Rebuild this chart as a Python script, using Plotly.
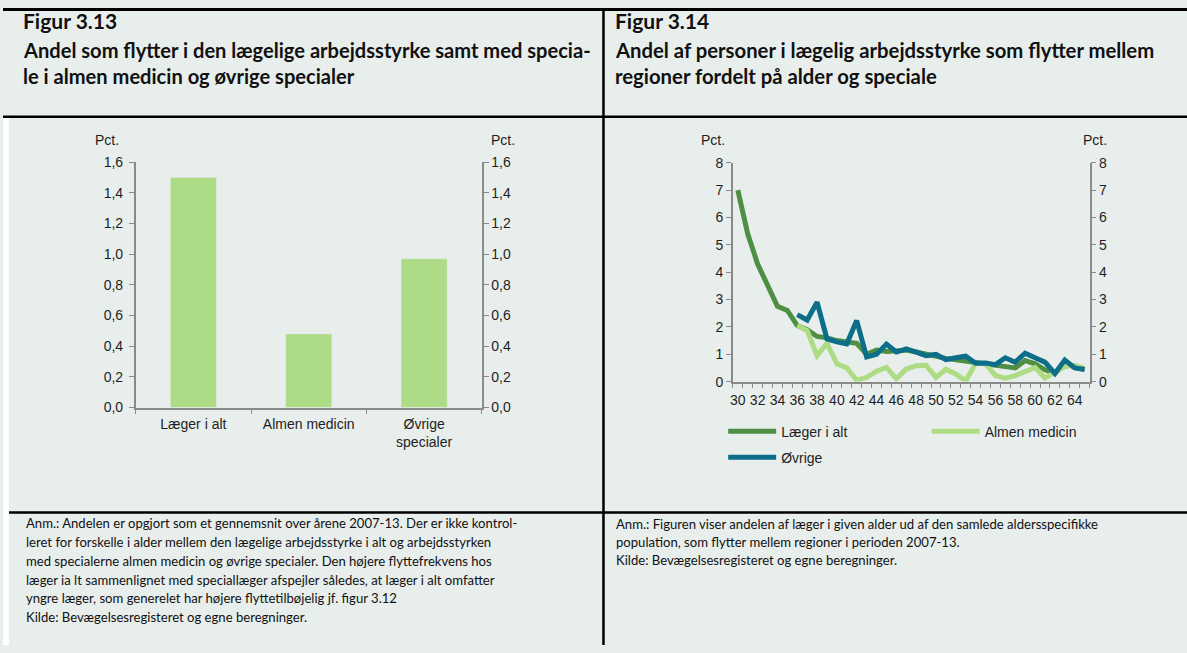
import plotly.graph_objects as go

W, H = 1187, 653

# ---------------- data ----------------
bar_categories = ["Læger i alt", "Almen medicin", "Øvrige<br>specialer"]
bar_values = [1.50, 0.48, 0.97]
bar_ticks = [0.0, 0.2, 0.4, 0.6, 0.8, 1.0, 1.2, 1.4, 1.6]
bar_ticktext = ["0,0", "0,2", "0,4", "0,6", "0,8", "1,0", "1,2", "1,4", "1,6"]

ages = list(range(30, 66))
laeger_i_alt = [7.0, 5.4, 4.3, 3.5, 2.75, 2.6, 2.05, 1.9, 1.65, 1.6,
                1.5, 1.45, 1.4, 1.0, 1.15, 1.1, 1.12, 1.15, 1.08, 1.0,
                0.9, 0.85, 0.8, 0.75, 0.68, 0.66, 0.6, 0.55, 0.5, 0.77,
                0.65, 0.43, 0.3, 0.65, 0.55, 0.45]
almen_medicin = [None] * 6 + [2.05, 1.87, 0.95, 1.4, 0.65, 0.5, 0.05, 0.15, 0.38, 0.52,
                              0.1, 0.46, 0.58, 0.6, 0.15, 0.45, 0.28, 0.02, 0.67, 0.65,
                              0.22, 0.13, 0.22, 0.37, 0.52, 0.13, 0.35, 0.55, 0.6, 0.48]
ovrige = [None] * 6 + [2.45, 2.25, 2.9, 1.56, 1.45, 1.38, 2.23, 0.9, 1.0, 1.37,
                       1.08, 1.2, 1.08, 0.95, 1.0, 0.8, 0.87, 0.93, 0.67, 0.68,
                       0.62, 0.87, 0.71, 1.04, 0.87, 0.71, 0.3, 0.79, 0.5, 0.44]
age_ticks = list(range(30, 66, 2))

title_left = ["Figur 3.13",
              "Andel som flytter i den lægelige arbejdsstyrke samt med specia-",
              "le i almen medicin og øvrige specialer"]
title_right = ["Figur 3.14",
               "Andel af personer i lægelig arbejdsstyrke som flytter mellem",
               "regioner fordelt på alder og speciale"]
notes_left = ["Anm.: Andelen er opgjort som et gennemsnit over årene 2007-13. Der er ikke kontrol-",
              "leret for forskelle i alder mellem den lægelige arbejdsstyrke i alt og arbejdsstyrken",
              "med specialerne almen medicin og øvrige specialer. Den højere flyttefrekvens hos",
              "læger ia lt sammenlignet med speciallæger afspejler således, at læger i alt omfatter",
              "yngre læger, som generelet har højere flyttetilbøjelig jf. figur 3.12",
              "Kilde: Bevægelsesregisteret og egne beregninger."]
notes_right = ["Anm.: Figuren viser andelen af læger i given alder ud af den samlede aldersspecifikke",
               "population, som flytter mellem regioner i perioden 2007-13.",
               "Kilde: Bevægelsesregisteret og egne beregninger."]

# ---------------- style ----------------
BG = "#E8EEEC"
BAR = "#ADDB86"
DARK = "#4E8F44"
LIGHT = "#ADDC84"
BLUE = "#0D6E8A"
AX = "#8A8A8A"
TXT = "#1E1E1E"
CHART_FONT = "Liberation Sans"
TEXT_FONT = "Lato"


def px(x):
    return x / W


def py(y):
    return 1 - y / H


fig = go.Figure()

fig.add_trace(go.Bar(x=bar_categories, y=bar_values, marker_color=BAR, width=0.4,
                     xaxis="x", yaxis="y", showlegend=False, hoverinfo="skip"))
fig.add_trace(go.Bar(x=bar_categories, y=bar_values, marker_opacity=0, width=0.4,
                     xaxis="x", yaxis="y2", showlegend=False, hoverinfo="skip"))

fig.add_trace(go.Scatter(x=ages, y=laeger_i_alt, name="Læger i alt", mode="lines",
                         line=dict(color=DARK, width=5), xaxis="x2", yaxis="y3",
                         legend="legend"))
fig.add_trace(go.Scatter(x=ages, y=almen_medicin, name="Almen medicin", mode="lines",
                         line=dict(color=LIGHT, width=5), xaxis="x2", yaxis="y3",
                         legend="legend2"))
fig.add_trace(go.Scatter(x=ages, y=ovrige, name="Øvrige", mode="lines",
                         line=dict(color=BLUE, width=5), xaxis="x2", yaxis="y3",
                         legend="legend3"))
fig.add_trace(go.Scatter(x=ages, y=laeger_i_alt, mode="lines", opacity=0,
                         xaxis="x2", yaxis="y4", showlegend=False, hoverinfo="skip"))

tickfont = dict(family=CHART_FONT, size=14, color=TXT)
common_axis = dict(showline=True, linecolor=AX, linewidth=1.5, ticks="outside",
                   ticklen=5, tickcolor=AX, tickwidth=1.2, showgrid=False,
                   zeroline=False, tickfont=tickfont, fixedrange=True)

BAR_TOP, BAR_BOT = 157.9, 409.6
LINE_TOP, LINE_BOT = 158.6, 383.0

fig.update_layout(
    width=W, height=H,
    margin=dict(l=0, r=0, t=0, b=0),
    paper_bgcolor=BG, plot_bgcolor="rgba(0,0,0,0)",
    barmode="overlay",
    xaxis=dict(domain=[px(133), px(480)], anchor="y", type="category",
               tickson="boundaries", ticklabelstandoff=3, **common_axis),
    yaxis=dict(domain=[py(BAR_BOT), py(BAR_TOP)], anchor="x", range=[0, 1.6],
               tickmode="array", tickvals=bar_ticks, ticktext=bar_ticktext,
               ticklabelstandoff=3, **common_axis),
    yaxis2=dict(anchor="x", overlaying="y", side="right",
                range=[0, 1.6], tickmode="array", tickvals=bar_ticks,
                ticktext=bar_ticktext, **common_axis),
    xaxis2=dict(domain=[px(731.7), px(1089.3)], anchor="y3", range=[29.5, 65.5],
                tickmode="array", tickvals=age_ticks,
                minor=dict(tick0=29.5, dtick=1, ticks="outside", ticklen=5,
                           tickcolor=AX, tickwidth=1.2),
                **{**common_axis, "tickcolor": "rgba(0,0,0,0)"}),
    yaxis3=dict(domain=[py(LINE_BOT), py(LINE_TOP)], anchor="x2", range=[0, 8], dtick=1,
                **common_axis),
    yaxis4=dict(anchor="x2", overlaying="y3", side="right",
                range=[0, 8], dtick=1, **common_axis),
    showlegend=True,
    legend=dict(x=px(722), y=py(434.3), xanchor="left", yanchor="middle",
                bgcolor="rgba(0,0,0,0)", font=dict(family=CHART_FONT, size=14, color=TXT),
                itemwidth=48),
    legend2=dict(x=px(926), y=py(434.3), xanchor="left", yanchor="middle",
                 bgcolor="rgba(0,0,0,0)", font=dict(family=CHART_FONT, size=14, color=TXT),
                 itemwidth=48),
    legend3=dict(x=px(722), y=py(461), xanchor="left", yanchor="middle",
                 bgcolor="rgba(0,0,0,0)", font=dict(family=CHART_FONT, size=14, color=TXT),
                 itemwidth=48),
)

HEAD_LINE = 111.6
BODY_LINE = 517.1
shapes = [
    dict(type="rect", xref="paper", yref="paper", x0=0, x1=px(6), y0=py(HEAD_LINE), y1=py(653),
         fillcolor="white", line_width=0, layer="below"),
    dict(type="line", xref="paper", yref="paper", x0=0, x1=1, y0=py(1.6), y1=py(1.6),
         line=dict(color="black", width=3)),
    dict(type="line", xref="paper", yref="paper", x0=0, x1=1, y0=py(HEAD_LINE), y1=py(HEAD_LINE),
         line=dict(color="black", width=2.5)),
    dict(type="line", xref="paper", yref="paper", x0=px(6), x1=1, y0=py(BODY_LINE), y1=py(BODY_LINE),
         line=dict(color="black", width=2.5)),
    dict(type="line", xref="paper", yref="paper", x0=px(602), x1=px(602), y0=py(0), y1=py(653),
         line=dict(color="black", width=2.5)),
]
fig.update_layout(shapes=shapes)

ann = []


def add_text(txt, x, y, size, family=TEXT_FONT, bold=False, anchor="left"):
    ann.append(dict(text=("<b>%s</b>" % txt) if bold else txt, x=px(x), y=py(y),
                    xref="paper", yref="paper", xanchor=anchor, yanchor="middle",
                    showarrow=False, font=dict(family=family, size=size, color="#111")))


title_y = [12.9, 42.8, 69.5]
for i, t in enumerate(title_left):
    add_text(t, 18, title_y[i], 21 if i == 0 else 20.1, bold=True)
for i, t in enumerate(title_right):
    add_text(t, 612, title_y[i], 21 if i == 0 else 20.3, bold=True)

for i, t in enumerate(notes_left):
    add_text(t, 21, 528.3 + i * 19.2, 13.1)
for i, t in enumerate(notes_right):
    add_text(t, 613, 528.9 + i * 18.5, 13.1)

for x in (104, 501, 712, 1095):
    ann.append(dict(text="Pct.", x=px(x), y=py(135.3), xref="paper", yref="paper",
                    xanchor="center", yanchor="middle", showarrow=False,
                    font=dict(family=CHART_FONT, size=14, color=TXT)))

fig.update_layout(annotations=ann)

fig.write_html(
    "out.html", config={"displayModeBar": False},
    post_script="document.body.style.margin='0';document.body.style.overflow='hidden';",
)
